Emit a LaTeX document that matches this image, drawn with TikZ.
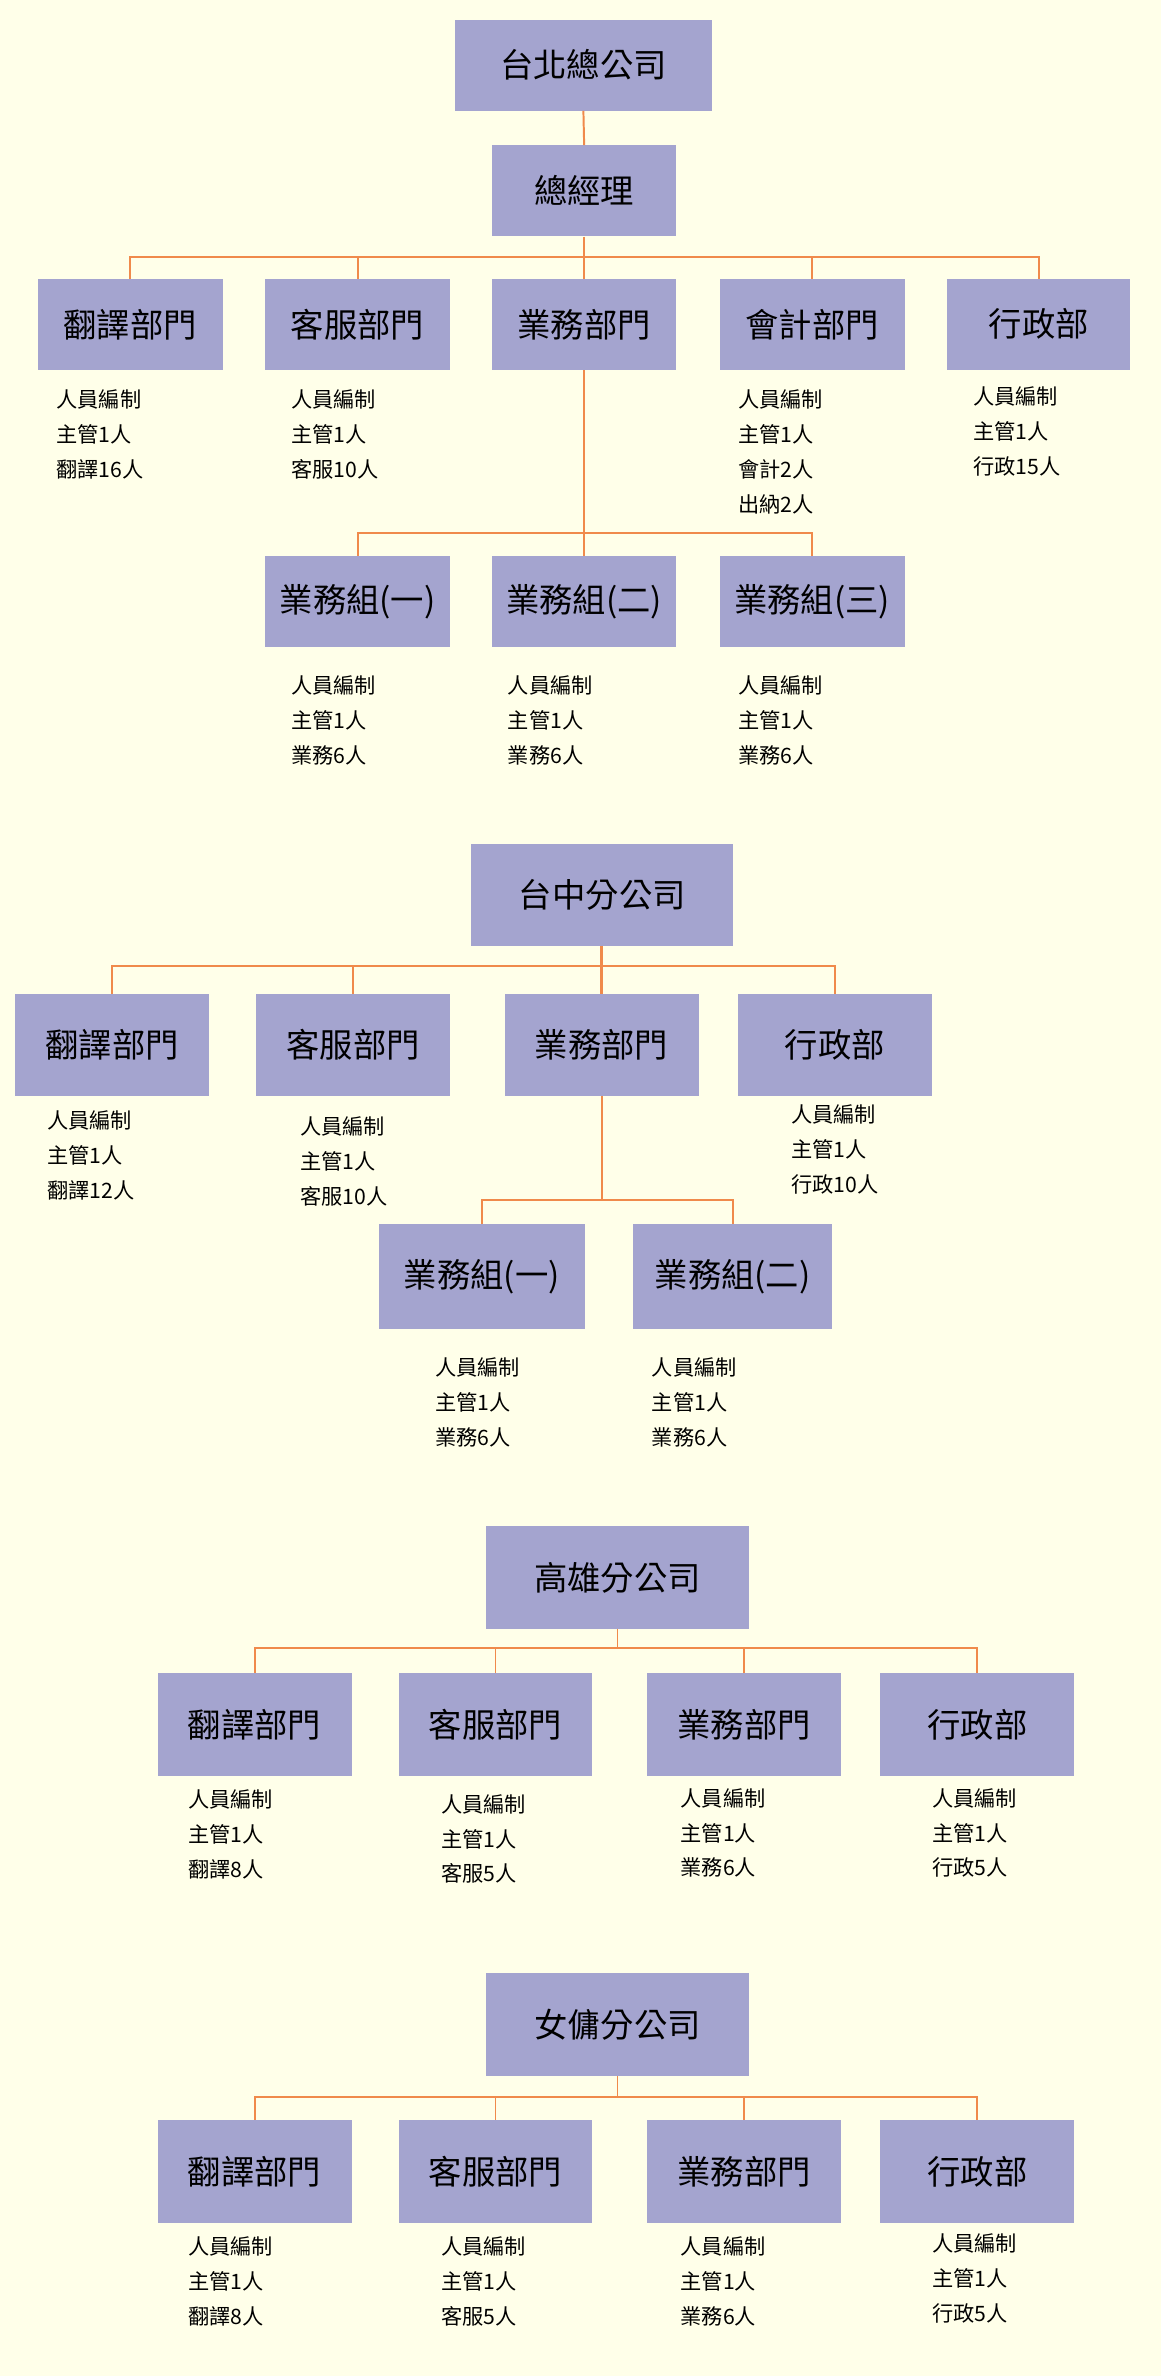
\documentclass[tikz,border=0pt]{standalone}
\usepackage{fontspec}
\setmainfont{Noto Sans CJK TC}
\begin{document}
\begin{tikzpicture}[x=1pt,y=-1pt,
  bx/.style={fill=boxc,inner sep=0pt,font=\fontsize{22}{24}\selectfont},
  nt/.style={anchor=north west,align=left,inner sep=0pt,font=\fontsize{14}{23}\selectfont},
  ln/.style={draw=linec,line width=1.3pt}]
\definecolor{boxc}{HTML}{A4A4CF}
\definecolor{linec}{HTML}{F08A4B}
\definecolor{bgc}{HTML}{FFFFE9}
\fill[bgc] (0,0) rectangle (766,1568);
\useasboundingbox (0,0) rectangle (766,1568);
\newcommand\bxn[6]{\node[bx,minimum width=#4-#3,minimum height=#6-#5] (#1) at ({(#3+#4)/2},{(#5+#6)/2}) {#2};}
% Taipei
\bxn{tp}{台北總公司}{300}{470}{13}{73}
\bxn{gm}{總經理}{325}{446}{96}{156}
\bxn{a1}{翻譯部門}{25}{147}{184}{244}
\bxn{a2}{客服部門}{175}{297}{184}{244}
\bxn{a3}{業務部門}{325}{446}{184}{244}
\bxn{a4}{會計部門}{475}{597}{184}{244}
\bxn{a5}{行政部}{625}{746}{184}{244}
\draw[ln] (tp.south)--(gm.north);
\draw[ln] (gm.south)--(a3.north);
\draw[ln] (a1.north)--++(0,-14)-|(a5.north);
\draw[ln] (a2.north)--++(0,-14); \draw[ln] (a4.north)--++(0,-14);
\bxn{s1}{業務組(一)}{175}{297}{367}{427}
\bxn{s2}{業務組(二)}{325}{446}{367}{427}
\bxn{s3}{業務組(三)}{475}{597}{367}{427}
\draw[ln] (a3.south)--(s2.north);
\draw[ln] (s1.north)--++(0,-15)-|(s3.north);
\node[nt] (n1) at (37,257) {人員編制\\主管1人\\翻譯16人};
\node[nt] (n2) at (192,257) {人員編制\\主管1人\\客服10人};
\node[nt] (n4) at (487,257) {人員編制\\主管1人\\會計2人\\出納2人};
\node[nt] (n5) at (642,255) {人員編制\\主管1人\\行政15人};
\node[nt] (n6) at (192,446) {人員編制\\主管1人\\業務6人};
\node[nt] (n7) at (335,446) {人員編制\\主管1人\\業務6人};
\node[nt] (n8) at (487,446) {人員編制\\主管1人\\業務6人};
% Taichung
\bxn{tc}{台中分公司}{311}{484}{557}{624}
\bxn{b1}{翻譯部門}{10}{138}{656}{723}
\bxn{b2}{客服部門}{169}{297}{656}{723}
\bxn{b3}{業務部門}{333}{461}{656}{723}
\bxn{b4}{行政部}{487}{615}{656}{723}
\draw[ln,line width=2.5pt] (tc.south -| b3.north)--(b3.north);
\draw[ln] (b1.north)--++(0,-18)-|(b4.north);
\draw[ln] (b2.north)--++(0,-18);
\bxn{t1}{業務組(一)}{250}{386}{808}{877}
\bxn{t2}{業務組(二)}{418}{549}{808}{877}
\draw[ln] (b3.south)--++(0,69);
\draw[ln] (t1.north)--++(0,-16)-|(t2.north);
\node[nt] (m1) at (31,733) {人員編制\\主管1人\\翻譯12人};
\node[nt] (m2) at (198,737) {人員編制\\主管1人\\客服10人};
\node[nt] (m4) at (522,729) {人員編制\\主管1人\\行政10人};
\node[nt] (m5) at (287,896) {人員編制\\主管1人\\業務6人};
\node[nt] (m6) at (430,896) {人員編制\\主管1人\\業務6人};
% Kaohsiung
\bxn{kh}{高雄分公司}{321}{494}{1007}{1075}
\bxn{c1}{翻譯部門}{104}{232}{1104}{1172}
\bxn{c2}{客服部門}{263}{391}{1104}{1172}
\bxn{c3}{業務部門}{427}{555}{1104}{1172}
\bxn{c4}{行政部}{581}{709}{1104}{1172}
\draw[ln] (kh.south)--++(0,13);
\draw[ln] (c1.north)--++(0,-16)-|(c4.north);
\draw[ln] (c2.north)--++(0,-16); \draw[ln] (c3.north)--++(0,-16);
\node[nt] (k1) at (124,1181) {人員編制\\主管1人\\翻譯8人};
\node[nt] (k2) at (291,1184) {人員編制\\主管1人\\客服5人};
\node[nt] (k3) at (449,1180) {人員編制\\主管1人\\業務6人};
\node[nt] (k4) at (615,1180) {人員編制\\主管1人\\行政5人};
% Female
\bxn{fy}{女傭分公司}{321}{494}{1302}{1370}
\bxn{d1}{翻譯部門}{104}{232}{1399}{1467}
\bxn{d2}{客服部門}{263}{391}{1399}{1467}
\bxn{d3}{業務部門}{427}{555}{1399}{1467}
\bxn{d4}{行政部}{581}{709}{1399}{1467}
\draw[ln] (fy.south)--++(0,14);
\draw[ln] (d1.north)--++(0,-15)-|(d4.north);
\draw[ln] (d2.north)--++(0,-15); \draw[ln] (d3.north)--++(0,-15);
\node[nt] (f1) at (124,1476) {人員編制\\主管1人\\翻譯8人};
\node[nt] (f2) at (291,1476) {人員編制\\主管1人\\客服5人};
\node[nt] (f3) at (449,1476) {人員編制\\主管1人\\業務6人};
\node[nt] (f4) at (615,1474) {人員編制\\主管1人\\行政5人};
\end{tikzpicture}
\end{document}
